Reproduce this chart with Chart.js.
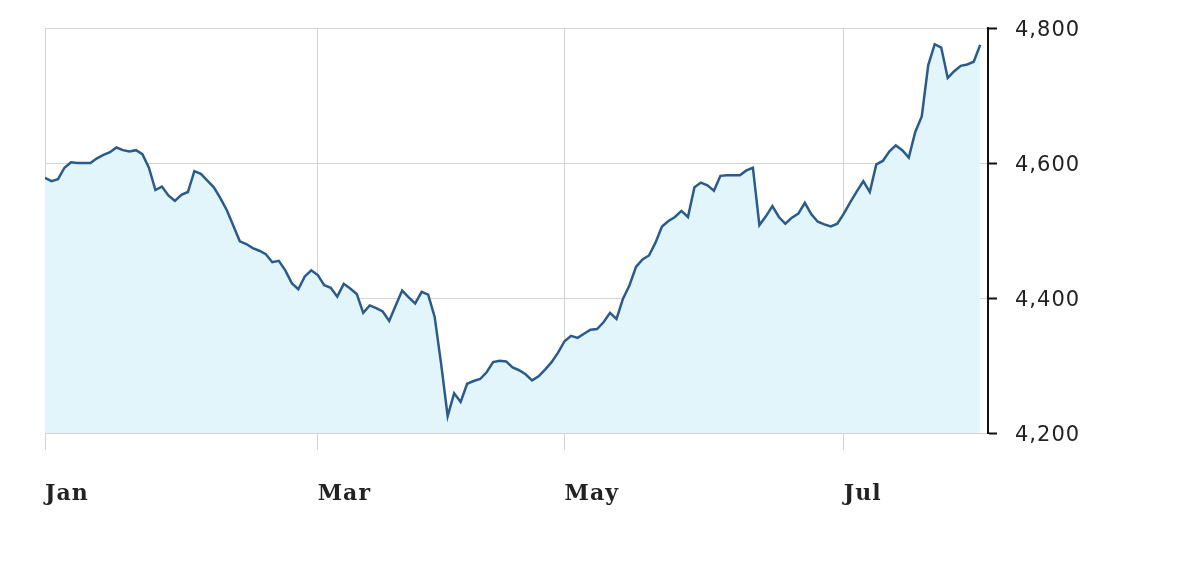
<!DOCTYPE html>
<html>
<head>
<meta charset="utf-8">
<script src="https://cdn.jsdelivr.net/npm/chart.js@4.4.1/dist/chart.umd.min.js"></script>
<style>
    html, body { margin: 0; padding: 0; background: #fff; }
    #wrap { width: 1200px; height: 582px; }
</style>
</head>
<body>
<div id="wrap"><canvas id="indexChart" width="1200" height="582"></canvas></div>
<script>
// daily closes, one per trading day from early Jan to late Jul
const closes = [
    4578, 4573, 4576, 4593, 4601, 4600, 4600, 4600, 4607, 4612,
    4616, 4623, 4619, 4617, 4619, 4613, 4593, 4560, 4565, 4552,
    4544, 4553, 4557, 4588, 4584, 4574, 4564, 4548, 4530, 4507,
    4484, 4480, 4474, 4470, 4465, 4453, 4455, 4441, 4422, 4413,
    4432, 4441, 4434, 4419, 4415, 4402, 4421, 4414, 4406, 4378,
    4389, 4385, 4380, 4366, 4389, 4411, 4401, 4392, 4409, 4405,
    4372, 4302, 4225, 4259, 4246, 4273, 4277, 4280, 4290, 4305,
    4307, 4306, 4297, 4293, 4287, 4278, 4284, 4294, 4305, 4319,
    4336, 4344, 4341, 4347, 4353, 4354, 4364, 4378, 4369, 4399,
    4419, 4446, 4457, 4463, 4482, 4506, 4514, 4520, 4529, 4520,
    4564, 4571, 4567, 4559, 4581, 4582, 4582, 4582, 4589, 4593,
    4508, 4521, 4536, 4520, 4510, 4519, 4525, 4541, 4524, 4513,
    4509, 4506, 4510, 4525, 4542, 4558, 4573, 4557, 4598, 4603,
    4617, 4626, 4619, 4608, 4646, 4669, 4745, 4776, 4771, 4726,
    4736, 4744, 4746, 4750, 4775
];

// month labels and the trading day they fall on
const monthLabels = ['Jan', 'Mar', 'May', 'Jul'];
const monthIndex = [0, 42, 80, 123];

const yTicks = [4200, 4400, 4600, 4800];

const points = closes.map((v, i) => ({ x: i, y: v }));

// the original text is drawn a bit wide, spread the letters out a little
// (canvas resize wipes ctx state, so set it again before layout and draw)
const wideText = {
    id: 'wideText',
    beforeLayout: chart => { chart.ctx.letterSpacing = '1px'; },
    beforeDraw: chart => { chart.ctx.letterSpacing = '1px'; }
};

const ctx = document.getElementById('indexChart').getContext('2d');
new Chart(ctx, {
    type: 'line',
    data: {
        datasets: [{
            data: points,
            borderColor: '#2a5b8a',
            backgroundColor: '#e2f5fa',
            borderWidth: 2.5,
            fill: 'start',
            tension: 0,
            pointRadius: 0
        }]
    },
    options: {
        responsive: false,
        animation: false,
        layout: { padding: { left: 45, top: 28, right: 0, bottom: 0 } },
        plugins: {
            legend: { display: false },
            tooltip: { enabled: false }
        },
        scales: {
            x: {
                type: 'linear',
                min: 0,
                max: 145.2,
                afterBuildTicks: scale => {
                    scale.ticks = monthIndex.map(v => ({ value: v }));
                },
                afterFit: scale => { scale.height = 149; },
                grid: {
                    color: '#d4d4d4',
                    tickColor: '#d4d4d4',
                    tickLength: 17
                },
                border: { color: '#d4d4d4' },
                ticks: {
                    align: 'start',
                    maxRotation: 0,
                    autoSkip: false,
                    padding: 31,
                    color: '#222',
                    font: { family: 'DejaVu Serif', size: 22, weight: 'bold' },
                    callback: value => monthLabels[monthIndex.indexOf(value)] || ''
                }
            },
            y: {
                position: 'right',
                min: 4200,
                max: 4800,
                afterBuildTicks: scale => {
                    scale.ticks = yTicks.map(v => ({ value: v }));
                },
                afterFit: scale => {
                    scale.width = 212;
                    scale.paddingTop = 0;
                    scale.paddingBottom = 0;
                },
                grid: {
                    color: '#d4d4d4',
                    tickColor: '#111',
                    tickLength: 9,
                    tickWidth: 2
                },
                border: { color: '#111', width: 2 },
                ticks: {
                    padding: 18,
                    labelOffset: 3,
                    color: '#222',
                    font: { family: 'DejaVu Sans', size: 21 },
                    callback: value => value.toLocaleString('en-US')
                }
            }
        }
    },
    plugins: [wideText]
});
</script>
</body>
</html>
